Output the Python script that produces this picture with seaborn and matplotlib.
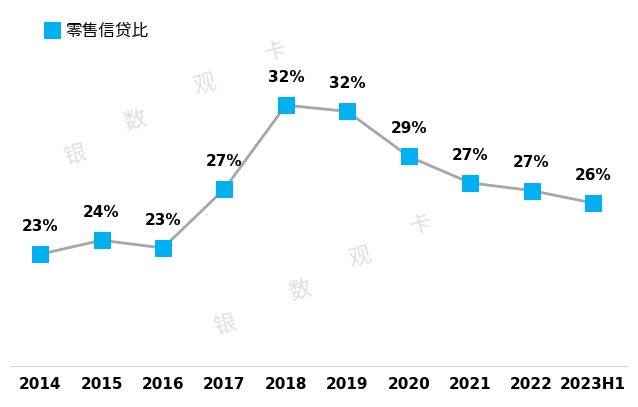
import matplotlib
matplotlib.use("Agg")
import matplotlib.pyplot as plt
from matplotlib import font_manager as fm
import seaborn as sns
import pandas as pd

years = ["2014","2015","2016","2017","2018","2019","2020","2021","2022","2023H1"]
values = [22.6, 23.5, 23.0, 26.8, 32.2, 31.8, 28.9, 27.2, 26.7, 25.9]
labels = ["23%","24%","23%","27%","32%","32%","29%","27%","27%","26%"]

cjk = [f.name for f in fm.fontManager.ttflist if "CJK" in f.name]
cjkname = "Noto Sans CJK SC" if "Noto Sans CJK SC" in cjk else (cjk[0] if cjk else "DejaVu Sans")
plt.rcParams["font.family"] = "sans-serif"
plt.rcParams["font.sans-serif"] = ["DejaVu Sans", cjkname]

df = pd.DataFrame({"year": years, "v": values})
fig = plt.figure(figsize=(6.38, 4.07), dpi=100)
ax = fig.add_axes([10/638, 1-366/407, 618/638, 326/407])
sns.lineplot(data=df, x="year", y="v", ax=ax, color="#A6A6A6", linewidth=2, sort=False,
             marker="s", markersize=11, markerfacecolor="#00B0F0", markeredgecolor="#00B0F0",
             label="零售信贷比")
for i, (v, l) in enumerate(zip(values, labels)):
    ax.text(i, v + 1.3, l, ha="center", va="bottom", fontsize=11, fontweight="bold")
ax.set_ylim(15.4, 36.4)
ax.set_xlim(-0.49, 9.57)
ax.set_xlabel(""); ax.set_ylabel("")
ax.set_yticks([])
for s in ["top","right","left"]:
    ax.spines[s].set_visible(False)
ax.spines["bottom"].set_color("#D9D9D9")
ax.tick_params(axis="x", length=0, pad=8)
for t in ax.get_xticklabels():
    t.set_fontweight("bold"); t.set_fontsize(11)
for (x, y, ch) in [(75,155,"银"),(135,120,"数"),(205,85,"观"),(275,52,"卡"),
                   (225,325,"银"),(300,290,"数"),(360,258,"观"),(420,225,"卡")]:
    fig.text(x/638, 1-y/407, ch, fontsize=16, color="#E0E0E0", ha="center", va="center",
             rotation=15, fontfamily=cjkname)
leg = ax.legend(loc="upper left", bbox_to_anchor=(20/618, 1.1), frameon=False,
                prop={"family": cjkname, "size": 12},
                handlelength=0.8, handletextpad=0.4)
for h in leg.legend_handles:
    h.set_linestyle("none")
fig.savefig("out.png", dpi=100)
